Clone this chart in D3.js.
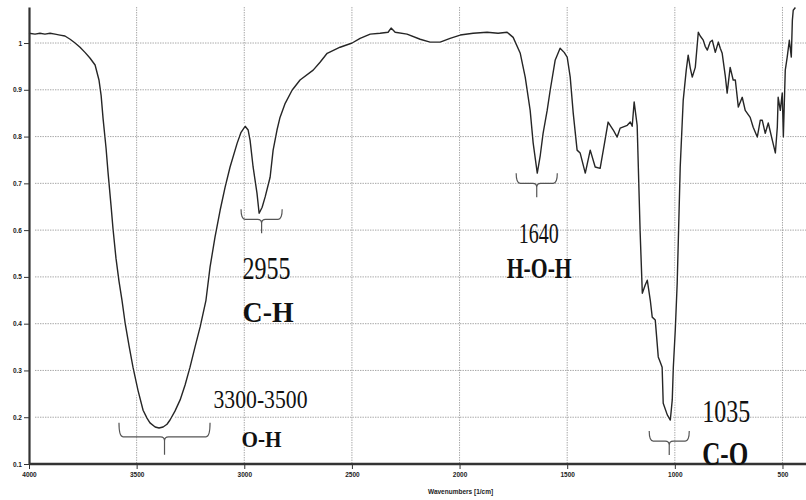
<!DOCTYPE html>
<meta charset="utf-8">
<script src="https://d3js.org/d3.v7.min.js"></script>
<div id="chart"></div>

<style>
  body { margin: 0; background: #fff; }
  .grid line { stroke: #9c9c9c; stroke-width: 0.9; stroke-dasharray: 1.4,1.1; }
  .axis text { font-family: "Liberation Sans", Arial, sans-serif; font-size: 6.5px; font-weight: bold; fill: #222; }
  .axis path, .axis line { stroke: #333; }
  .label { font-family: "Liberation Serif", "Times New Roman", serif; fill: #111; }
</style>

<script>
  // spectrum (wavenumber in 1/cm, transmittance)
  var wavenumber = [
    4000,3972,3949,3926,3902,3879,3856,3833,3809,3786,
    3763,3740,3717,3693,3675,3665,3656,3642,3633,3619,
    3610,3596,3582,3568,3554,3535,3517,3494,3470,3452,
    3438,3414,3396,3377,3359,3345,3322,3298,3275,3252,
    3229,3205,3178,3159,3136,3112,3089,3066,3033,3015,
    2996,2982,2973,2959,2941,2931,2917,2903,2880,2866,
    2848,2834,2810,2778,2741,2680,2648,2615,2555,2499,
    2462,2415,2369,2332,2318,2299,2244,2183,2137,2090,
    2044,1997,1937,1872,1821,1779,1751,1718,1695,1672,
    1658,1639,1625,1612,1593,1579,1556,1533,1514,1500,
    1486,1472,1454,1440,1416,1393,1370,1347,1328,1310,
    1286,1268,1254,1221,1207,1198,1189,1175,1161,1151,
    1138,1128,1114,1105,1091,1077,1068,1059,1054,1035,
    1021,1012,1007,998,989,975,961,947,938,928,
    919,905,891,882,868,859,849,836,826,812,
    798,789,780,766,757,743,729,719,705,687,
    673,650,636,617,603,594,580,566,547,533,
    524,520,510,501,496,487,478,468,459,454,
    450,440
  ];
  var transmittance = [
    1.021,1.019,1.021,1.019,1.021,1.019,1.017,1.015,1.008,1.000,
    0.991,0.980,0.968,0.953,0.921,0.888,0.839,0.775,0.724,0.653,
    0.604,0.540,0.491,0.450,0.403,0.352,0.307,0.258,0.215,0.198,
    0.188,0.179,0.177,0.179,0.185,0.194,0.213,0.237,0.269,0.307,
    0.350,0.393,0.450,0.521,0.585,0.643,0.692,0.735,0.786,0.809,
    0.822,0.814,0.792,0.735,0.679,0.636,0.649,0.671,0.713,0.771,
    0.814,0.841,0.871,0.899,0.921,0.942,0.959,0.978,0.991,1.000,
    1.010,1.019,1.021,1.023,1.032,1.023,1.019,1.008,1.002,1.002,
    1.010,1.017,1.021,1.023,1.021,1.023,1.012,0.978,0.927,0.856,
    0.786,0.722,0.760,0.807,0.856,0.899,0.963,0.989,0.980,0.970,
    0.927,0.850,0.771,0.765,0.722,0.771,0.735,0.732,0.782,0.831,
    0.814,0.799,0.818,0.824,0.831,0.822,0.874,0.824,0.594,0.465,
    0.482,0.493,0.450,0.414,0.408,0.329,0.318,0.307,0.230,0.205,
    0.194,0.237,0.307,0.386,0.487,0.735,0.878,0.942,0.974,0.946,
    0.927,0.948,1.023,1.015,1.006,0.993,0.985,1.002,1.006,0.980,
    1.002,0.989,0.978,0.931,0.893,0.948,0.921,0.921,0.863,0.884,
    0.856,0.841,0.820,0.799,0.835,0.835,0.807,0.829,0.792,0.765,
    0.820,0.884,0.856,0.893,0.799,0.942,0.970,1.006,0.970,1.049,
    1.070,1.076
  ];

  var xTicks = [4000, 3500, 3000, 2500, 2000, 1500, 1000, 500];
  var yTicks = [0.1, 0.2, 0.3, 0.4, 0.5, 0.6, 0.7, 0.8, 0.9, 1];
  var xTitle = "Wavenumbers [1/cm]";

  // band annotations
  var bandText = ["3300-3500", "2955", "1640", "1035"];
  var bondText = ["O-H", "C-H", "H-O-H", "C-O"];
  var bandFrom = [3582, 3015, 1737, 1119];
  var bandTo = [3159, 2824, 1546, 933];
  var bandLevel = [0.158, 0.623, 0.70, 0.149];

  var width = 806, height = 500;

  var svg = d3.select("#chart").append("svg")
    .attr("width", width)
    .attr("height", height);

  var x = d3.scaleLinear().domain([4000, 400]).range([29, 804]);
  var y = d3.scaleLinear().domain([0.1, 1.077]).range([464, 7]);

  // grid
  var grid = svg.append("g").attr("class", "grid");
  grid.selectAll(".h").data(yTicks.slice(1)).enter().append("line")
    .attr("x1", 35).attr("x2", 806)
    .attr("y1", function (d) { return y(d); })
    .attr("y2", function (d) { return y(d); });
  grid.selectAll(".v").data(xTicks.slice(1)).enter().append("line")
    .attr("y1", y(1.077)).attr("y2", y(0.1))
    .attr("x1", function (d) { return x(d); })
    .attr("x2", function (d) { return x(d); });

  var pts = wavenumber.map(function (w, i) { return [w, transmittance[i]]; });
  var line = d3.line()
    .x(function (d) { return x(d[0]); })
    .y(function (d) { return y(d[1]); });

  // white halo breaks the grid around the trace, like the original
  svg.append("path").datum(pts)
    .attr("d", line)
    .attr("fill", "none")
    .attr("stroke", "#fff")
    .attr("stroke-width", 5)
    .attr("stroke-linejoin", "round");

  svg.append("path").datum(pts)
    .attr("d", line)
    .attr("fill", "none")
    .attr("stroke", "#262626")
    .attr("stroke-width", 1.4)
    .attr("stroke-linejoin", "round");

  // axes
  var yAxis = svg.append("g").attr("class", "axis")
    .attr("transform", "translate(29,0)")
    .call(d3.axisLeft(y).tickValues(yTicks).tickSize(5).tickSizeOuter(0).tickPadding(2)
      .tickFormat(function (d) { return d === 1 ? "1" : d3.format(".1f")(d); }));
  yAxis.select(".domain").attr("stroke-width", 2.2);

  var xAxis = svg.append("g").attr("class", "axis")
    .attr("transform", "translate(0,464)")
    .call(d3.axisBottom(x).tickValues(xTicks).tickSize(5).tickSizeOuter(0).tickPadding(3)
      .tickFormat(d3.format("d")));
  xAxis.select(".domain").attr("d", "M29,0H806").attr("stroke-width", 2.6);

  svg.append("text").attr("class", "axis")
    .attr("x", x(2000) + 1).attr("y", 494)
    .attr("text-anchor", "middle")
    .style("font-family", "Liberation Sans, Arial, sans-serif")
    .style("font-size", "6.5px").style("font-weight", "bold").style("fill", "#222")
    .text(xTitle);

  // brackets + labels
  var layout = [
    { arm: 14, stem: 18, t1: [49, -29, 26, 94], t2: [77, 10, 24, 40] },
    { arm: 10, stem: 14, t1: [-19, 60, 32, 48], t2: [-19, 103, 30, 51] },
    { arm: 10, stem: 14, t1: [-18, 60, 29, 40], t2: [-30, 95, 29, 65] },
    { arm: 10, stem: 14, t1: [33, -19, 31, 48], t2: [33, 24, 33, 46] }
  ];

  bandText.forEach(function (t, i) {
    var xl = x(bandFrom[i]), xr = x(bandTo[i]), yh = y(bandLevel[i]);
    var cx = (xl + xr) / 2, L = layout[i];
    var p = d3.path();
    p.moveTo(xl, yh - L.arm);
    p.quadraticCurveTo(xl, yh, xl + 4, yh);
    p.lineTo(cx - 4, yh);
    p.quadraticCurveTo(cx, yh, cx, yh + 4);
    p.lineTo(cx, yh + L.stem);
    p.moveTo(cx, yh + 4);
    p.quadraticCurveTo(cx, yh, cx + 4, yh);
    p.lineTo(xr - 4, yh);
    p.quadraticCurveTo(xr, yh, xr, yh - L.arm);
    svg.append("path").attr("d", p.toString())
      .attr("fill", "none").attr("stroke", "#555").attr("stroke-width", 1.2);

    svg.append("text").attr("class", "label")
      .attr("x", cx + L.t1[0]).attr("y", yh + L.t1[1])
      .attr("font-size", L.t1[2])
      .attr("textLength", L.t1[3]).attr("lengthAdjust", "spacingAndGlyphs")
      .text(t);
    svg.append("text").attr("class", "label")
      .attr("x", cx + L.t2[0]).attr("y", yh + L.t2[1])
      .attr("font-size", L.t2[2]).attr("font-weight", "bold")
      .attr("textLength", L.t2[3]).attr("lengthAdjust", "spacingAndGlyphs")
      .text(bondText[i]);
  });
</script>
